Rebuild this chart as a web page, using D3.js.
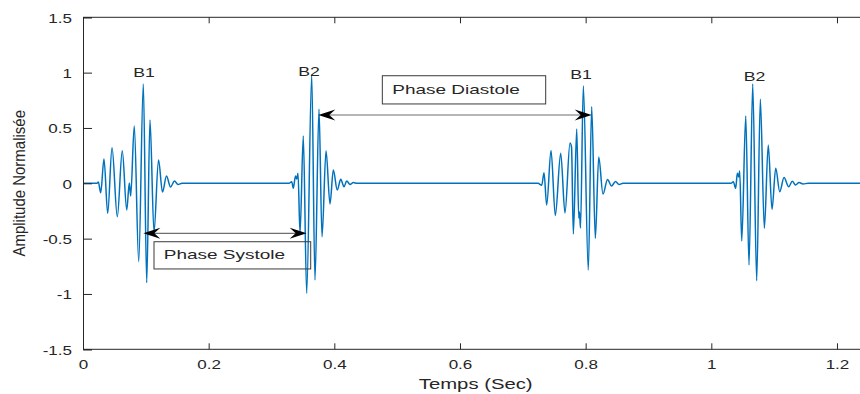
<!DOCTYPE html>
<html>
<head>
<meta charset="utf-8">
<script src="https://cdn.jsdelivr.net/npm/d3@7"></script>
<style>
  html, body { margin: 0; padding: 0; background: #fff; }
  svg { display: block; }
  text { font-family: "Liberation Sans", Arial, Helvetica, sans-serif; fill: #262626; }
</style>
</head>
<body>
<svg id="chart" width="860" height="394"></svg>
<script>
// ---- data ----
const timeSec = [
  0, 0.0223, 0.0244, 0.0282, 0.0334, 0.0393, 0.0462, 0.0546, 0.0625, 0.0696, 0.0737, 0.0759,
  0.0816, 0.0887, 0.0960, 0.1014, 0.1066, 0.1130, 0.1202, 0.1265, 0.1329, 0.1393, 0.1456, 0.1512, 0.1576,
  0.3279, 0.3322, 0.3347, 0.3382, 0.3401, 0.3422, 0.3454, 0.3506, 0.3560, 0.3640, 0.3692, 0.3756,
  0.3804, 0.3868, 0.3931, 0.3984, 0.4047, 0.4102, 0.4154, 0.4197, 0.4250, 0.4302, 0.4361,
  0.7242, 0.7301, 0.7337, 0.7380, 0.7449, 0.7517, 0.7603, 0.7671, 0.7751, 0.7775, 0.7804, 0.7858,
  0.7890, 0.7902, 0.7918, 0.7963, 0.8042, 0.8096, 0.8154, 0.8208, 0.8276, 0.8348, 0.8412, 0.8475, 0.8531, 0.8595,
  1.0314, 1.0350, 1.0388, 1.0414, 1.0436, 1.0452, 1.0484, 1.0548, 1.0600, 1.0659, 1.0722, 1.0780,
  1.0844, 1.0906, 1.0966, 1.1025, 1.1089, 1.1157, 1.1232, 1.1289, 1.1340, 1.1396, 1.1460, 1.1539, 1.25
];
const amplitude = [
  0, 0, 0.012, -0.085, 0.220, -0.271, 0.322, -0.302, 0.295, -0.241, 0.003, -0.115,
  0.518, -0.708, 0.897, -0.898, 0.572, -0.440, 0.211, -0.079, 0.066, -0.033, 0.021, -0.011, 0,
  0, 0.015, -0.045, 0.066, 0.039, 0.090, -0.452, 0.427, -0.994, 0.979, -0.874, 0.669,
  -0.483, 0.295, -0.187, 0.120, -0.061, 0.036, -0.031, 0.021, -0.011, 0.007, 0,
  0, -0.018, 0.096, -0.196, 0.296, -0.291, 0.271, -0.268, 0.364, 0.328, -0.458, 0.491,
  -0.314, -0.259, -0.404, 0.879, -0.783, 0.692, -0.497, 0.238, -0.097, 0.034, -0.024, 0.016, -0.011, 0,
  0, 0.015, -0.045, 0.090, 0.057, 0.111, -0.521, 0.608, -0.738, 0.897, -0.880, 0.759,
  -0.407, 0.346, -0.235, 0.136, -0.076, 0.052, -0.031, 0.018, -0.015, 0.007, -0.006, 0, 0
];
const xTicks = [0, 0.2, 0.4, 0.6, 0.8, 1, 1.2];
const yTicks = [-1.5, -1, -0.5, 0, 0.5, 1, 1.5];
const xLabel = "Temps (Sec)";
const yLabel = "Amplitude Normalisée";

// annotations, in data units
const beatNames = ["B1", "B2", "B1", "B2"];
const beatT = [0.097, 0.3597, 0.7926, 1.0687];
const beatA = [0.963, 0.970, 0.942, 0.924];

const phaseNames = ["Phase Systole", "Phase Diastole"];
const arrowFromT = [0.0960, 0.3745];
const arrowToT = [0.3560, 0.8096];
const arrowA = [-0.452, 0.617];
const boxT0 = [0.1130, 0.4764];
const boxT1 = [0.3624, 0.7364];
const boxA0 = [-0.528, 0.972];
const boxA1 = [-0.774, 0.717];

// ---- layout ----
const svg = d3.select("#chart");
const mLeft = 83, mTop = 17.3, plotW = 785.4, plotH = 332;
const x = d3.scaleLinear().domain([0, 1.25]).range([mLeft, mLeft + plotW]);
const y = d3.scaleLinear().domain([-1.5, 1.5]).range([mTop + plotH, mTop]);
const axisColor = "#262626";
const SX = 1.42; // horizontal stretch of the reference text
const fmt = d => String(d);

svg.append("defs").append("clipPath").attr("id", "clip")
  .append("rect").attr("x", mLeft).attr("y", mTop).attr("width", plotW).attr("height", plotH);

// signal
const line = d3.line()
  .x((d, i) => x(timeSec[i]))
  .y((d, i) => y(amplitude[i]))
  .curve(d3.curveMonotoneX);

svg.append("path")
  .datum(amplitude)
  .attr("clip-path", "url(#clip)")
  .attr("fill", "none")
  .attr("stroke", "#0072BD")
  .attr("stroke-width", 1.5)
  .attr("stroke-linejoin", "round")
  .attr("d", line);

// axes (MATLAB style, ticks inward)
const gAx = svg.append("g");
const xAxisB = d3.axisBottom(x).tickValues(xTicks).tickSize(-6).tickFormat(fmt);
const xAxisT = d3.axisTop(x).tickValues(xTicks).tickSize(-6).tickFormat("");
const yAxisL = d3.axisLeft(y).tickValues(yTicks).tickSize(-9).tickFormat(fmt);

const gb = gAx.append("g").attr("transform", `translate(0,${mTop + plotH})`).call(xAxisB);
const gt = gAx.append("g").attr("transform", `translate(0,${mTop})`).call(xAxisT);
const gl = gAx.append("g").attr("transform", `translate(${mLeft},0)`).call(yAxisL);

[gb, gt, gl].forEach(g => {
  g.select(".domain").attr("stroke", axisColor).attr("stroke-width", 1);
  g.selectAll(".tick line").attr("stroke", axisColor).attr("stroke-width", 1);
});
gb.select(".domain").attr("d", `M${mLeft},0H${mLeft + plotW}`);
gt.select(".domain").attr("d", `M${mLeft},0H${mLeft + plotW}`);

gb.selectAll(".tick text")
  .attr("font-size", 12).attr("fill", axisColor)
  .attr("y", null).attr("dy", null)
  .attr("transform", `translate(0,20) scale(${SX},1)`);
gl.selectAll(".tick text")
  .attr("font-size", 12).attr("fill", axisColor)
  .attr("x", null).attr("dy", null)
  .attr("text-anchor", "end")
  .attr("transform", `translate(-11,5) scale(${SX},1)`);

// axis labels
svg.append("text")
  .attr("transform", `translate(${x(0.625)},389) scale(1.45,1)`)
  .attr("text-anchor", "middle").attr("font-size", 14)
  .text(xLabel);
svg.append("text")
  .attr("transform", `translate(25,${y(0)}) rotate(-90) scale(1,1.12)`)
  .attr("text-anchor", "middle").attr("font-size", 15)
  .text(yLabel);

// beat labels
beatNames.forEach((name, i) => {
  svg.append("text")
    .attr("transform", `translate(${x(beatT[i])},${y(beatA[i])}) scale(1.36,1)`)
    .attr("text-anchor", "middle").attr("font-size", 13)
    .attr("fill", "#000")
    .text(name);
});

// phase arrows and boxes
function head(tipX, tipY, dir) {
  const L = 17, h = 5.5, n = 11;
  return `M${tipX},${tipY}L${tipX + dir * L},${tipY - h}L${tipX + dir * n},${tipY}L${tipX + dir * L},${tipY + h}Z`;
}
phaseNames.forEach((name, i) => {
  const x0 = x(arrowFromT[i]), x1 = x(arrowToT[i]), ya = y(arrowA[i]);
  svg.append("line")
    .attr("x1", x0 + 8).attr("x2", x1 - 8).attr("y1", ya).attr("y2", ya)
    .attr("stroke", "#6e6e6e").attr("stroke-width", 1.2);
  svg.append("path").attr("d", head(x0, ya, 1)).attr("fill", "#000");
  svg.append("path").attr("d", head(x1, ya, -1)).attr("fill", "#000");

  const bx0 = x(boxT0[i]), bx1 = x(boxT1[i]);
  const by0 = y(boxA0[i]), by1 = y(boxA1[i]);
  svg.append("rect")
    .attr("x", bx0).attr("y", by0).attr("width", bx1 - bx0).attr("height", by1 - by0)
    .attr("fill", "none").attr("stroke", "#3a3a3a").attr("stroke-width", 1);
  svg.append("text")
    .attr("transform", `translate(${(bx0 + bx1) / 2 - 8},${by1 - 9.5}) scale(1.46,1)`)
    .attr("text-anchor", "middle").attr("font-size", 13).attr("fill", "#000")
    .text(name);
});
</script>
</body>
</html>
